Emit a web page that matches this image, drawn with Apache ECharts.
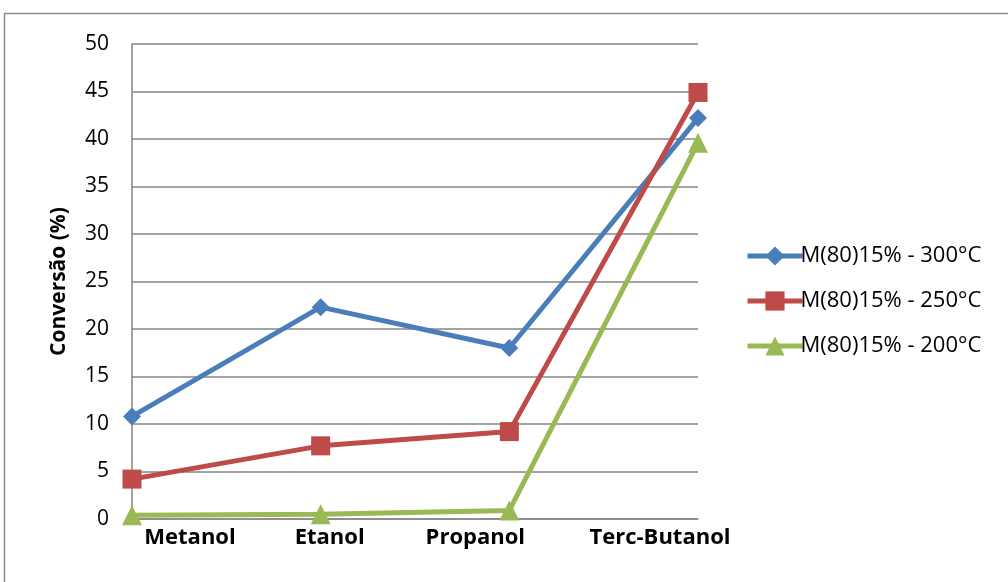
<!DOCTYPE html>
<html><head><meta charset="utf-8">
<script src="https://cdn.jsdelivr.net/npm/echarts@6/dist/echarts.min.js"></script>
<style>html,body{margin:0;padding:0;background:#fff}#c{width:1008px;height:582px}</style>
</head><body><div id="c"></div>
<script>
const categories = ['Metanol', 'Etanol', 'Propanol', 'Terc-Butanol'];
const s300 = [10.8, 22.3, 18.0, 42.2];
const s250 = [4.2, 7.7, 9.2, 44.9];
const s200 = [0.4, 0.5, 0.9, 39.6];
const seriesNames = ['M(80)15% - 300°C', 'M(80)15% - 250°C', 'M(80)15% - 200°C'];
const yTicks = {min: 0, max: 50, interval: 5};

const font = '"Open Sans", sans-serif';
const chart = echarts.init(document.getElementById('c'));
function line(name, data, color, symbol, size) {
  return {
    name, type: 'line', data, symbol, symbolSize: size,
    lineStyle: {color, width: 5}, itemStyle: {color},
    emphasis: {disabled: true}, z: 3
  };
}
const labelBase = {fontFamily: font, fontWeight: 'bold', fontSize: 22, color: '#000'};
chart.setOption({
  animation: false,
  backgroundColor: '#fff',
  graphic: [{type: 'rect', shape: {x: 4.5, y: 13.5, width: 1010, height: 600},
    style: {fill: null, stroke: '#8c8c8c', lineWidth: 1.5}, z: -10}],
  grid: {left: 132, right: 310, top: 44, bottom: 63},
  legend: {
    orient: 'vertical', left: 740, top: 240, itemGap: 23, itemWidth: 55, itemHeight: 24,
    lineStyle: {width: 5},
    textStyle: {fontFamily: font, fontSize: 22, color: '#000', padding: [0, 0, 0, -7]},
    data: seriesNames
  },
  xAxis: {
    type: 'category', data: categories, boundaryGap: false,
    axisLine: {lineStyle: {color: '#868686', width: 1.5}},
    axisTick: {show: false},
    axisLabel: {
      margin: 8,
      formatter: (v, i) => '{c' + i + '|' + v + '}',
      rich: {
        c0: Object.assign({padding: [0, 0, 0, 116]}, labelBase),
        c1: Object.assign({padding: [0, 0, 0, 18]}, labelBase),
        c2: Object.assign({padding: [0, 68, 0, 0]}, labelBase),
        c3: Object.assign({padding: [0, 76, 0, 0]}, labelBase)
      }
    }
  },
  yAxis: {
    type: 'value', min: yTicks.min, max: yTicks.max, interval: yTicks.interval,
    name: 'Conversão (%)', nameLocation: 'middle', nameGap: 62, nameRotate: 90,
    nameTextStyle: {fontFamily: font, fontWeight: 'bold', fontSize: 21, color: '#000'},
    axisLine: {show: true, lineStyle: {color: '#868686', width: 1.5}},
    axisTick: {show: false},
    splitLine: {lineStyle: {color: '#868686', width: 1.5}},
    axisLabel: {fontFamily: font, fontSize: 21, color: '#000', margin: 23}
  },
  series: [
    line(seriesNames[0], s300, '#4A7EBB', 'diamond', 18),
    line(seriesNames[1], s250, '#BE4B48', 'rect', 19),
    line(seriesNames[2], s200, '#98B954', 'triangle', 20)
  ]
});
</script></body></html>
